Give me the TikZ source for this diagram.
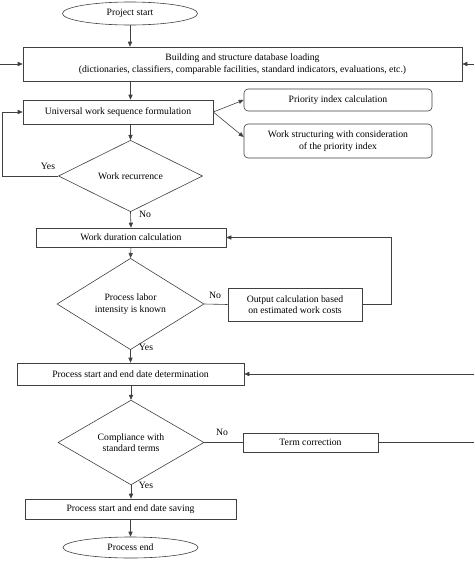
\documentclass[tikz,border=0pt]{standalone}
\usepackage{fontspec}
\setmainfont{Liberation Serif}
\usetikzlibrary{%
	arrows.meta,%
	shapes.geometric%
}
\definecolor{linegray}{rgb}{0.25, 0.25, 0.25}

\begin{document}
\begin{tikzpicture}[x=1pt,y=-1pt,
		font=\fontsize{9.7}{11.4}\selectfont,
		every path/.style={draw=linegray,line width=0.6pt},
		>={Triangle[length=5pt,width=4.2pt]},
		terminal/.style={draw=linegray,ellipse,inner sep=0pt,minimum width=135pt},
		block/.style={draw=linegray,rectangle,inner sep=0pt,align=center},
		rblock/.style={block,rounded corners=4pt},
		choice/.style={draw=linegray,diamond,inner sep=0pt,align=center},
		tag/.style={inner sep=1pt}
	]
	\useasboundingbox[draw=none] (0,0) rectangle (474,562);
	
	% Boxes
	\node[terminal,minimum height=23pt] (start) at (130,13.5) {Project start};
	\node[block,minimum width=439pt,minimum height=34pt] (build) at (242.5,64)
		{Building and structure database loading\\(dictionaries, classifiers, comparable facilities, standard indicators, evaluations, etc.)};
	\node[block,minimum width=190pt,minimum height=24pt] (seq) at (118,112) {Universal work sequence formulation};
	\node[rblock,minimum width=188pt,minimum height=22pt] (prio) at (338,100) {Priority index calculation};
	\node[rblock,minimum width=188pt,minimum height=34pt] (struct) at (338,141)
		{Work structuring with consideration\\of the priority index};
	\node[choice,minimum width=144pt,minimum height=58pt] (recur) at (130.5,176) {Work recurrence};
	\node[block,minimum width=190pt,minimum height=19pt] (dur) at (131,237.5) {Work duration calculation};
	\node[choice,minimum width=147pt,minimum height=68pt] (labor) at (130.5,304) {Process labor\\intensity is known};
	\node[block,minimum width=134pt,minimum height=33pt] (output) at (295,304.5)
		{Output calculation based\\on estimated work costs};
	\node[block,minimum width=227pt,minimum height=22pt] (dates) at (130.5,374) {Process start and end date determination};
	\node[choice,minimum width=146pt,minimum height=69pt] (comply) at (131,442.5) {Compliance with\\standard terms};
	\node[block,minimum width=135pt,minimum height=19pt] (term) at (310.5,442.5) {Term correction};
	\node[block,minimum width=211pt,minimum height=20pt] (save) at (130.5,509) {Process start and end date saving};
	\node[terminal,minimum height=21pt] (finish) at (130.5,547.5) {Process end};
	
	% Labels
	\node[tag] (yes1) at (48,166) {Yes};
	\node[tag] (no1) at (145,214) {No};
	\node[tag] (no2) at (215,295) {No};
	\node[tag] (yes2) at (146,347) {Yes};
	\node[tag] (no3) at (222,432) {No};
	\node[tag] (yes3) at (146,485) {Yes};
	
	% Loose ends at the borders
	\coordinate (inbuildL) at (0,64);
	\coordinate (inbuildR) at (474,64);
	\coordinate (loopL) at (2,176);
	\coordinate (loopR) at (391,304.5);
	\coordinate (indatesR) at (474,374);
	\coordinate (outterm) at (474,442.5);
	
	% Main line
	\draw[->] (start) -- (build.north -| start);
	\draw[->] (build.south -| recur) -- (seq.north -| recur);
	\draw[->] (seq.south -| recur) -- (recur.north);
	\draw[->] (recur.south) -- (dur.north);
	\draw[->] (dur.south) -- (labor.north);
	\draw[->] (labor.south) -- (dates.north -| labor);
	\draw[->] (dates.south -| comply) -- (comply.north);
	\draw[->] (comply.south) -- (save.north -| comply);
	\draw[->] (save.south -| finish) -- (finish.north);
	
	% Side branches
	\draw[->] (seq.east) -- (prio.west);
	\draw[->] (seq.east) -- ([yshift=4pt]struct.west);
	\draw[->] (inbuildL) -- (build.west);
	\draw[->] (inbuildR) -- (build.east);
	\draw[->] (recur.west) -- (loopL) |- (seq.west);
	\draw (labor.east) -- (output.west);
	\draw[->] (output.east) -- (loopR) |- (dur.east);
	\draw[->] (indatesR) -- (dates.east);
	\draw (comply.east) -- (term.west);
	\draw (term.east) -- (outterm);
\end{tikzpicture}
\end{document}
